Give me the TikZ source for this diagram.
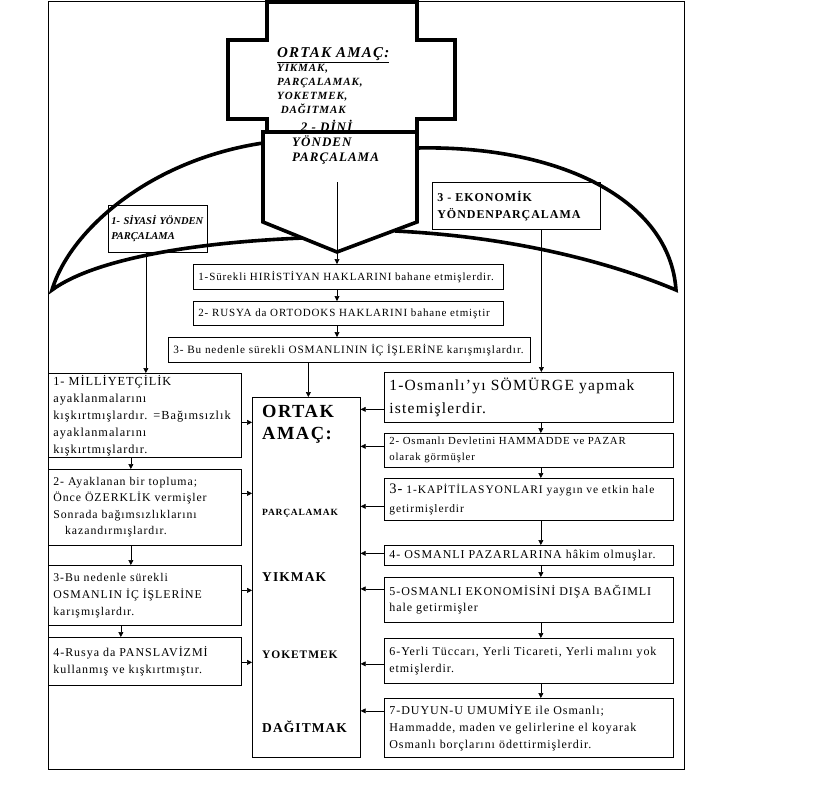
\documentclass[tikz,border=0pt]{standalone}
\usepackage{fontspec}
\setmainfont{Liberation Serif}[LetterSpace=8]
\newfontfamily\plainserif{Liberation Serif}
\usetikzlibrary{arrows.meta, positioning}

\begin{document}
\begin{tikzpicture}[x=1pt, y=-1pt,
  box/.style={rectangle, draw, line width=0.7pt, anchor=north west, align=left,
    inner xsep=5pt, inner ysep=1pt},
  heavy/.style={line width=3.6pt, line join=miter},
  arr/.style={-{Triangle[length=5pt,width=5pt]}, line width=0.6pt},
  lbl/.style={inner sep=0pt, anchor=west, align=left}
]
\useasboundingbox (0,0) rectangle (839,807);
\draw[line width=0.7pt] (48,1) rectangle (684,769);

% top cross and arrow-shaped banner
\draw[heavy] (267,132) -- (267,119) -- (228,119) -- (228,40) -- (267,40) -- (267,2) -- (417,2)
  -- (417,40) -- (455,40) -- (455,119) -- (417,119) -- (417,132);
\draw[heavy] (263,132) -- (417,132) -- (417,222) -- (337,252) -- (263,222) -- cycle;

% the lens round the banner
\draw[heavy] (303,238) .. controls (180,243) and (90,262) .. (52,290)
  .. controls (70,230) and (150,160) .. (263,143);
\draw[heavy] (417,148) .. controls (560,145) and (670,200) .. (676,290)
  .. controls (600,258) and (500,236) .. (395,231);

\node[lbl, font=\fontsize{15}{18}\selectfont\bfseries\itshape] (crosstitle) at (277,55) {\underline{ORTAK AMAÇ:}};
\node[lbl, anchor=north west, font=\fontsize{11}{14}\selectfont\bfseries\itshape] (crossgoals) at (277,64)
  {YIKMAK,\\PARÇALAMAK,\\YOKETMEK,\\\ DAĞITMAK};
\node[lbl, anchor=north west, font=\fontsize{13}{15}\selectfont\bfseries\itshape] (dini) at (292,120)
  {\ \ 2 - DİNİ\\YÖNDEN\\PARÇALAMA};
\coordinate (dinitail) at (337,182);

% branch headings
\node[box, minimum width=99pt, minimum height=47pt, text width=93pt, inner xsep=3pt,
  font=\fontsize{10.5}{15}\selectfont\plainserif\bfseries\itshape] (siyasi) at (108,205) {1- SİYASİ YÖNDEN\\PARÇALAMA\\[3pt]};
\node[box, minimum width=168pt, minimum height=47pt, text width=158pt,
  font=\fontsize{12}{17}\selectfont\bfseries] (ekonomik) at (432,182) {3 - EKONOMİK\\YÖNDENPARÇALAMA};

% middle chain
\node[box, minimum width=310pt, minimum height=25pt, text width=300pt,
  font=\fontsize{11}{13}\selectfont] (hak) at (193,264) {1-Sürekli HIRİSTİYAN HAKLARINI bahane etmişlerdir.};
\node[box, minimum width=310pt, minimum height=24pt, text width=300pt,
  font=\fontsize{11}{13}\selectfont] (rusya) at (193,301) {2- RUSYA da ORTODOKS HAKLARINI bahane etmiştir};
\node[box, minimum width=362pt, minimum height=25pt, text width=352pt,
  font=\fontsize{11.2}{13}\selectfont] (icisler) at (168,337) {3- Bu nedenle sürekli OSMANLININ İÇ İŞLERİNE karışmışlardır.};

% common goal column
\node[rectangle, draw, line width=0.7pt, anchor=north west, minimum width=108pt, minimum height=360pt] (goal) at (252,397) {};
\node[lbl, font=\fontsize{18.5}{22}\selectfont\bfseries] (goaltitle) at (262,424) {ORTAK\\AMAÇ:};
\node[lbl, font=\fontsize{9.5}{11}\selectfont\bfseries] (gparca) at (262,513) {PARÇALAMAK};
\node[lbl, font=\fontsize{13.5}{15}\selectfont\bfseries] (gyik) at (262,577) {YIKMAK};
\node[lbl, font=\fontsize{11.5}{13}\selectfont\bfseries] (gyok) at (262,655) {YOKETMEK};
\node[lbl, font=\fontsize{13.5}{15}\selectfont\bfseries] (gdag) at (262,727) {DAĞITMAK};

% political column
\node[box, minimum width=193pt, minimum height=84pt, text width=183pt,
  font=\fontsize{12.3}{17}\selectfont] (milli) at (48,373)
  {1- MİLLİYETÇİLİK\\ayaklanmalarını\\kışkırtmışlardır. =Bağımsızlık\\ayaklanmalarını\\kışkırtmışlardır.};
\node[box, minimum width=193pt, minimum height=76pt, text width=183pt,
  font=\fontsize{11.8}{16.5}\selectfont] (ozerk) at (48,469)
  {2- Ayaklanan bir topluma;\\Önce ÖZERKLİK vermişler\\Sonrada bağımsızlıklarını\\\quad kazandırmışlardır.\\[2pt]};
\node[box, minimum width=193pt, minimum height=60pt, text width=183pt,
  font=\fontsize{11.8}{17}\selectfont] (nedenle) at (48,565)
  {3-Bu nedenle sürekli\\OSMANLIN İÇ İŞLERİNE\\karışmışlardır.};
\node[box, minimum width=193pt, minimum height=48pt, text width=183pt,
  font=\fontsize{12}{17}\selectfont] (pansla) at (48,637)
  {4-Rusya da PANSLAVİZMİ\\kullanmış ve kışkırtmıştır.\\[2pt]};

% economic column
\node[box, minimum width=289pt, minimum height=50pt, text width=279pt,
  font=\fontsize{15.5}{23}\selectfont] (somurge) at (384,372)
  {1-Osmanlı’yı SÖMÜRGE yapmak\\istemişlerdir.};
\node[box, minimum width=289pt, minimum height=34pt, text width=279pt,
  font=\fontsize{10.8}{16}\selectfont] (hammadde) at (384,433)
  {2- Osmanlı Devletini HAMMADDE ve PAZAR\\olarak görmüşler};
\node[box, minimum width=289pt, minimum height=42pt, text width=279pt,
  font=\fontsize{11.5}{19}\selectfont] (kapit) at (384,478)
  {{\fontsize{14.5}{19}\selectfont 3-} 1-KAPİTİLASYONLARI yaygın ve etkin hale\\getirmişlerdir};
\node[box, minimum width=289pt, minimum height=20pt, text width=279pt,
  font=\fontsize{12}{13}\selectfont] (pazar) at (384,545)
  {4- OSMANLI PAZARLARINA hâkim olmuşlar.};
\node[box, minimum width=289pt, minimum height=45pt, text width=279pt,
  font=\fontsize{12}{16}\selectfont] (disa) at (384,577)
  {5-OSMANLI EKONOMİSİNİ DIŞA BAĞIMLI\\hale getirmişler\\[4pt]};
\node[box, minimum width=289pt, minimum height=45pt, text width=279pt,
  font=\fontsize{12}{17}\selectfont] (yerli) at (384,638)
  {6-Yerli Tüccarı, Yerli Ticareti, Yerli malını yok\\etmişlerdir.};
\node[box, minimum width=289pt, minimum height=59pt, text width=279pt,
  font=\fontsize{12}{17}\selectfont] (duyun) at (384,698)
  {7-DUYUN-U UMUMİYE ile Osmanlı;\\Hammadde, maden ve gelirlerine el koyarak\\Osmanlı borçlarını ödettirmişlerdir.};

% connectors
\draw[arr] (dinitail) -- (dinitail |- hak.north);
\draw[arr] (hak.south -| dinitail) -- (rusya.north -| dinitail);
\draw[arr] (rusya.south -| dinitail) -- (icisler.north -| dinitail);
\draw[arr] ([xshift=-41pt]icisler.south) -- ([xshift=-41pt]icisler.south |- goal.north);

\draw[arr] ([xshift=-12pt]siyasi.south) -- ([xshift=-12pt]siyasi.south |- milli.north);
\draw[arr] ([xshift=-14pt]milli.south) -- ([xshift=-14pt]milli.south |- ozerk.north);
\draw[arr] ([xshift=-14pt]ozerk.south) -- ([xshift=-14pt]ozerk.south |- nedenle.north);
\draw[arr] ([xshift=-24pt]nedenle.south) -- ([xshift=-24pt]nedenle.south |- pansla.north);

\draw[arr] ([xshift=25pt]ekonomik.south) -- ([xshift=25pt]ekonomik.south |- somurge.north);
\draw[arr] ([xshift=12pt]somurge.south) -- ([xshift=12pt]somurge.south |- hammadde.north);
\draw[arr] ([xshift=12pt]hammadde.south) -- ([xshift=12pt]hammadde.south |- kapit.north);
\draw[arr] ([xshift=12pt]kapit.south) -- ([xshift=12pt]kapit.south |- pazar.north);
\draw[arr] ([xshift=12pt]pazar.south) -- ([xshift=12pt]pazar.south |- disa.north);
\draw[arr] ([xshift=12pt]disa.south) -- ([xshift=12pt]disa.south |- yerli.north);
\draw[arr] ([xshift=12pt]yerli.south) -- ([xshift=12pt]yerli.south |- duyun.north);

\draw[arr] ([yshift=-7pt]milli.east) -- ([yshift=-7pt]milli.east -| goal.west);
\draw[arr] ([yshift=14pt]ozerk.east) -- ([yshift=14pt]ozerk.east -| goal.west);
\draw[arr] ([yshift=5pt]nedenle.east) -- ([yshift=5pt]nedenle.east -| goal.west);
\draw[arr] ([yshift=-1pt]pansla.east) -- ([yshift=-1pt]pansla.east -| goal.west);

\draw[arr] ([yshift=-12pt]somurge.west) -- ([yshift=-12pt]somurge.west -| goal.east);
\draw[arr] ([yshift=4pt]hammadde.west) -- ([yshift=4pt]hammadde.west -| goal.east);
\draw[arr] ([yshift=-7pt]kapit.west) -- ([yshift=-7pt]kapit.west -| goal.east);
\draw[arr] ([yshift=2pt]pazar.west) -- ([yshift=2pt]pazar.west -| goal.east);
\draw[arr] ([yshift=11pt]disa.west) -- ([yshift=11pt]disa.west -| goal.east);
\draw[arr] ([yshift=-3pt]yerli.west) -- ([yshift=-3pt]yerli.west -| goal.east);
\draw[arr] ([yshift=17pt]duyun.west) -- ([yshift=17pt]duyun.west -| goal.east);
\end{tikzpicture}
\end{document}
